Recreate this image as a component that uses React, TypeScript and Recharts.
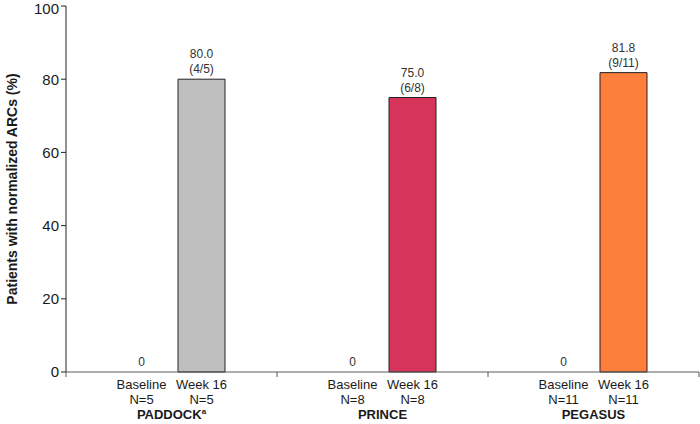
import { BarChart, Bar, XAxis, YAxis, LabelList, Cell } from "recharts";

const groups = ["PADDOCK", "PRINCE", "PEGASUS"];
const groupNotes = ["a", "", ""];
const baselineValues = [0, 0, 0];
const week16Values = [80.0, 75.0, 81.8];
const responders = ["4/5", "6/8", "9/11"];
const baselineN = [5, 8, 11];
const week16N = [5, 8, 11];
const barColors = ["#bfbfbf", "#d6345a", "#fe7f3c"];
const yTicks = [0, 20, 40, 60, 80, 100];

const data = groups.map((g, i) => ({
  group: g,
  baseline: baselineValues[i],
  week16: week16Values[i],
}));

const FONT = "'Liberation Sans', Arial, sans-serif";
const AXIS = "#5a5a5a";
const TEXT = "#1a1a1a";

const CHART_W = 700;
const CHART_H = 424;
const Y_W = 66;
const RIGHT = 1;
const BAND = (CHART_W - Y_W - RIGHT) / groups.length;

function GroupTick(props: any) {
  const { x, y, index } = props;
  const off = 30;
  const axisY = y - 8;
  return (
    <g fontFamily={FONT}>
      {index === 0 ? (
        <line x1={x - BAND / 2} x2={x - BAND / 2} y1={axisY} y2={axisY + 5} stroke={AXIS} />
      ) : null}
      <line x1={x + BAND / 2} x2={x + BAND / 2} y1={axisY} y2={axisY + 5} stroke={AXIS} />
      <text x={x - off} y={axisY - 6} textAnchor="middle" fontSize={12} fill="#333">{baselineValues[index]}</text>
      <text x={x - off} y={y + 9} textAnchor="middle" fontSize={13} fill={TEXT}>Baseline</text>
      <text x={x - off} y={y + 24} textAnchor="middle" fontSize={13} fill={TEXT}>N={baselineN[index]}</text>
      <text x={x + off} y={y + 9} textAnchor="middle" fontSize={13} fill={TEXT}>Week 16</text>
      <text x={x + off} y={y + 24} textAnchor="middle" fontSize={13} fill={TEXT}>N={week16N[index]}</text>
      <text x={x} y={y + 39} textAnchor="middle" fontSize={13} fontWeight="bold" fill={TEXT}>
        {groups[index]}
        {groupNotes[index] ? (
          <tspan fontSize={8} dy={-5}>{groupNotes[index]}</tspan>
        ) : null}
      </text>
    </g>
  );
}

function Week16Label(props: any) {
  const { x, y, width, value, index } = props;
  const cx = x + width / 2;
  return (
    <g fontFamily={FONT}>
      <text x={cx} y={y - 21} textAnchor="middle" fontSize={12} fill="#333">{Number(value).toFixed(1)}</text>
      <text x={cx} y={y - 6} textAnchor="middle" fontSize={12} fill="#333">({responders[index]})</text>
    </g>
  );
}

function YTitle(props: any) {
  const { viewBox } = props;
  const cy = viewBox.y + viewBox.height / 2;
  return (
    <text
      x={12}
      y={cy}
      transform={`rotate(-90 12 ${cy})`}
      textAnchor="middle"
      dominantBaseline="central"
      fontSize={14}
      fontWeight="bold"
      fill={TEXT}
      fontFamily={FONT}
    >
      Patients with normalized ARCs (%)
    </text>
  );
}

export default function App() {
  return (
    <div style={{ position: "fixed", left: 0, top: 0, width: CHART_W, height: CHART_H, background: "#fff" }}>
      <BarChart
        width={CHART_W}
        height={CHART_H}
        data={data}
        margin={{ top: 6, right: RIGHT, left: 0, bottom: 0 }}
        barSize={47}
        barGap={13}
      >
        <XAxis
          dataKey="group"
          height={52}
          axisLine={{ stroke: AXIS }}
          tickLine={false}
          tick={<GroupTick />}
          interval={0}
        />
        <YAxis
          width={Y_W}
          domain={[0, 100]}
          ticks={yTicks}
          axisLine={{ stroke: "#222" }}
          tickLine={{ stroke: "#222" }}
          tickSize={5}
          tick={{ fontSize: 15, fill: TEXT, fontFamily: FONT }}
          label={<YTitle />}
        />
        <Bar dataKey="baseline" fill="#bfbfbf" stroke="#222" strokeWidth={1} isAnimationActive={false} />
        <Bar dataKey="week16" stroke="#222" strokeWidth={1} isAnimationActive={false}>
          {data.map((d, i) => (
            <Cell key={d.group} fill={barColors[i]} />
          ))}
          <LabelList dataKey="week16" content={<Week16Label />} />
        </Bar>
      </BarChart>
    </div>
  );
}
